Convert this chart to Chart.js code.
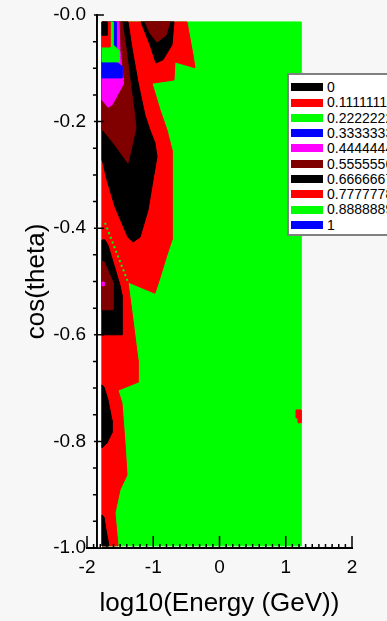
<!DOCTYPE html>
<html>
<head>
<meta charset="utf-8">
<script src="https://cdn.jsdelivr.net/npm/chart.js@4.4.1/dist/chart.umd.min.js"></script>
<style>
  body { margin: 0; background: #f7f7f7; }
  #wrap { position: relative; width: 387px; height: 621px; overflow: hidden; }
  #legend { position: absolute; left: 287px; top: 73px; width: 120px; height: 159px;
            background: #fff; border: 2px solid #808080;
            font: 14px 'Liberation Sans', Arial, sans-serif; color: #000; }
  .row { position: absolute; left: 2px; height: 15px; line-height: 15px; white-space: nowrap; }
  .sw { display: inline-block; width: 32px; height: 8px; vertical-align: middle; margin-right: 4px; margin-top: -2px; }
</style>
</head>
<body>
<div id="wrap">
  <canvas id="contour" width="387" height="621"></canvas>
  <div id="legend"></div>
</div>
<script>
// axis ticks
const xTickLabels = ['-2', '-1', '0', '1', '2'];
const yTickLabels = ['-1.0', '-0.8', '-0.6', '-0.4', '-0.2', '-0.0'];
const yAxisAt = -1.85;

// contour levels (legend)
const levelLabels = ['0', '0.1111111', '0.2222222', '0.3333333', '0.4444444',
                     '0.5555556', '0.6666667', '0.7777778', '0.8888889', '1'];
const levelColors = ['#000000', '#ff0000', '#00ff00', '#0000ff', '#ff00ff',
                     '#800000', '#000000', '#ff0000', '#00ff00', '#0000ff'];

// contour regions, log10(E) / cos(theta), painted bottom to top
const greenX = [-1.774, 1.23, 1.23, -1.774];
const greenY = [-0.013, -0.013, -0.996, -0.996];

const notchX = [1.155, 1.23, 1.23, 1.185, 1.185, 1.155];
const notchY = [-0.741, -0.741, -0.765, -0.765, -0.756, -0.756];

const redX = [-1.774, -0.491, -0.400, -0.370, -0.672, -0.687, -1.019, -0.898, -0.792, -0.717,
              -0.717, -0.792, -0.898, -0.974, -1.381, -1.306, -1.230, -1.230, -1.532, -1.472,
              -1.426, -1.396, -1.502, -1.577, -1.532, -1.774];
const redY = [-0.013, -0.013, -0.075, -0.099, -0.088, -0.122, -0.128, -0.178, -0.216, -0.253,
              -0.422, -0.450, -0.493, -0.522, -0.501, -0.572, -0.647, -0.689, -0.704, -0.728,
              -0.803, -0.863, -0.891, -0.934, -0.996, -0.996];

const lensX = [-1.487, -1.381, -1.321, -1.230, -1.125, -1.049, -0.974, -0.943, -1.004, -1.079,
               -1.200, -1.306, -1.381, -1.577, -1.698, -1.758, -1.774, -1.774];
const lensY = [-0.013, -0.013, -0.062, -0.126, -0.188, -0.216, -0.240, -0.266, -0.310, -0.366,
               -0.417, -0.426, -0.417, -0.360, -0.310, -0.278, -0.272, -0.084];

const maroonX = [-1.774, -1.472, -1.411, -1.351, -1.291, -1.260, -1.381, -1.577, -1.758, -1.774];
const maroonY = [-0.013, -0.013, -0.062, -0.122, -0.178, -0.212, -0.278, -0.244, -0.216, -0.216];

const magentaX = [-1.774, -1.517, -1.502, -1.457, -1.457, -1.623, -1.683, -1.774];
const magentaY = [-0.013, -0.013, -0.066, -0.118, -0.131, -0.169, -0.173, -0.159];

const blueX = [-1.774, -1.562, -1.562, -1.472, -1.472, -1.774];
const blueY = [-0.013, -0.013, -0.088, -0.096, -0.118, -0.118];

const limeX = [-1.774, -1.608, -1.608, -1.517, -1.517, -1.774];
const limeY = [-0.013, -0.013, -0.056, -0.066, -0.088, -0.088];

const cornerRedX = [-1.774, -1.653, -1.653, -1.774];
const cornerRedY = [-0.013, -0.013, -0.060, -0.060];

const cornerBlackX = [-1.774, -1.698, -1.698, -1.774];
const cornerBlackY = [-0.013, -0.013, -0.038, -0.038];

const vBlackX = [-1.185, -0.687, -0.717, -0.853, -0.959, -1.049];
const vBlackY = [-0.013, -0.013, -0.056, -0.084, -0.090, -0.056];

const vMaroonX = [-1.125, -0.747, -0.808, -0.943, -1.049];
const vMaroonY = [-0.013, -0.013, -0.038, -0.051, -0.034];

const lowBlackX = [-1.774, -1.728, -1.683, -1.608, -1.502, -1.472, -1.472, -1.774];
const lowBlackY = [-0.422, -0.422, -0.432, -0.463, -0.507, -0.525, -0.600, -0.600];

const lowMaroonX = [-1.774, -1.743, -1.608, -1.608, -1.774];
const lowMaroonY = [-0.463, -0.463, -0.501, -0.553, -0.553];

const dotX = [-1.774, -1.743, -1.743, -1.774];
const dotY = [-0.501, -0.501, -0.508, -0.508];

const midBlackX = [-1.774, -1.743, -1.683, -1.623, -1.623, -1.698, -1.774];
const midBlackY = [-0.694, -0.698, -0.722, -0.760, -0.784, -0.803, -0.812];

const footBlackX = [-1.774, -1.743, -1.713, -1.668, -1.774];
const footBlackY = [-0.938, -0.942, -0.966, -0.996, -0.996];

const dashX = [-1.728, -1.381];
const dashY = [-0.390, -0.501];

function region(xs, ys, color) {
    const pts = xs.map((x, i) => ({ x: x, y: ys[i] }));
    pts.push(pts[0]);
    return {
        data: pts,
        showLine: true,
        fill: 'shape',
        backgroundColor: color,
        borderColor: color,
        borderWidth: 1,
        pointRadius: 0,
        tension: 0
    };
}

const layers = [
    region(greenX, greenY, '#00ff00'),
    region(notchX, notchY, '#ff0000'),
    region(redX, redY, '#ff0000'),
    region(lensX, lensY, '#000000'),
    region(maroonX, maroonY, '#800000'),
    region(magentaX, magentaY, '#ff00ff'),
    region(blueX, blueY, '#0000ff'),
    region(limeX, limeY, '#00ff00'),
    region(cornerRedX, cornerRedY, '#ff0000'),
    region(cornerBlackX, cornerBlackY, '#000000'),
    region(vBlackX, vBlackY, '#000000'),
    region(vMaroonX, vMaroonY, '#800000'),
    region(lowBlackX, lowBlackY, '#000000'),
    region(lowMaroonX, lowMaroonY, '#800000'),
    region(dotX, dotY, '#ff00ff'),
    region(midBlackX, midBlackY, '#000000'),
    region(footBlackX, footBlackY, '#000000'),
    {
        data: dashX.map((x, i) => ({ x: x, y: dashY[i] })),
        showLine: true, fill: false, borderColor: '#00ff00', borderWidth: 2,
        borderDash: [2, 3], pointRadius: 0
    }
];
layers.forEach((ds, i) => { ds.order = layers.length - i; });

// white gap between the y axis and the data
const gapFill = {
    id: 'gapFill',
    beforeDatasetsDraw(chart) {
        const { ctx, scales: { x, y } } = chart;
        const x1 = x.getPixelForValue(yAxisAt) + 1;
        const x2 = x.getPixelForValue(-1.774);
        ctx.save();
        ctx.fillStyle = '#ffffff';
        ctx.fillRect(x1, y.getPixelForValue(-0.013), x2 - x1, y.getPixelForValue(-1) - y.getPixelForValue(-0.013));
        ctx.restore();
    }
};

const axisTicks = {
    id: 'axisTicks',
    afterDraw(chart) {
        const { ctx, chartArea, scales: { x, y } } = chart;
        const x0 = x.getPixelForValue(yAxisAt);
        ctx.save();
        ctx.strokeStyle = '#000';
        ctx.lineWidth = 1.5;
        ctx.beginPath();
        for (let i = -20; i <= 20; i++) {
            const px = x.getPixelForValue(i / 10);
            const len = i % 10 === 0 ? 12 : 4;
            ctx.moveTo(px, chartArea.bottom);
            ctx.lineTo(px, chartArea.bottom - len);
        }
        for (let i = 0; i <= 20; i++) {
            const py = y.getPixelForValue(-i / 20);
            if (i % 4 === 0) {
                ctx.moveTo(x0 - 3, py);
                ctx.lineTo(x0 + 7, py);
            } else {
                ctx.moveTo(x0 - 4, py);
                ctx.lineTo(x0, py);
            }
        }
        ctx.stroke();
        ctx.restore();
    }
};

Chart.defaults.font.family = "'Liberation Sans', Arial, sans-serif";
Chart.defaults.color = '#000';

const ctx = document.getElementById('contour').getContext('2d');
const chart = new Chart(ctx, {
    type: 'scatter',
    data: { datasets: layers },
    options: {
        responsive: false,
        animation: false,
        events: [],
        layout: { padding: { top: 15, right: 35, left: 0, bottom: 0 } },
        plugins: { legend: { display: false }, tooltip: { enabled: false } },
        scales: {
            x: {
                type: 'linear', position: 'bottom', min: -2, max: 2,
                afterFit: s => { s.height = 73; },
                grid: { display: false, drawTicks: false },
                border: { display: true, color: '#000', width: 2 },
                ticks: {
                    stepSize: 1, padding: 8, font: { size: 19 },
                    maxRotation: 0, autoSkip: false,
                    callback: (v, i) => xTickLabels[i]
                },
                title: {
                    display: true, text: 'log10(Energy (GeV))',
                    font: { size: 26 }, padding: { top: 0, bottom: 2 }
                }
            },
            // axis line only, sits inside the plot
            y: {
                type: 'linear', position: { x: yAxisAt }, min: -1, max: 0,
                afterFit: s => { s.paddingTop = 0; s.paddingBottom = 0; },
                grid: { display: false, drawTicks: false },
                border: { display: true, color: '#000', width: 2 },
                ticks: { display: false }
            },
            // labels and title on the left edge
            yt: {
                axis: 'y', type: 'linear', position: 'left', min: -1, max: 0,
                afterFit: s => { s.width = 87; s.paddingTop = 0; s.paddingBottom = 0; },
                grid: { display: false, drawTicks: false },
                border: { display: false },
                ticks: {
                    stepSize: 0.2, padding: 1, font: { size: 19 },
                    autoSkip: false,
                    callback: (v, i) => yTickLabels[i]
                },
                title: {
                    display: true, text: 'cos(theta)',
                    font: { size: 26 }, padding: { top: 21, bottom: 0 }
                }
            }
        }
    },
    plugins: [gapFill, axisTicks]
});

// legend box
const legend = document.getElementById('legend');
levelLabels.forEach((label, i) => {
    const row = document.createElement('div');
    row.className = 'row';
    row.style.top = (5 + i * 15.3) + 'px';
    const sw = document.createElement('span');
    sw.className = 'sw';
    sw.style.background = levelColors[i];
    row.appendChild(sw);
    row.appendChild(document.createTextNode(label));
    legend.appendChild(row);
});
</script>
</body>
</html>
